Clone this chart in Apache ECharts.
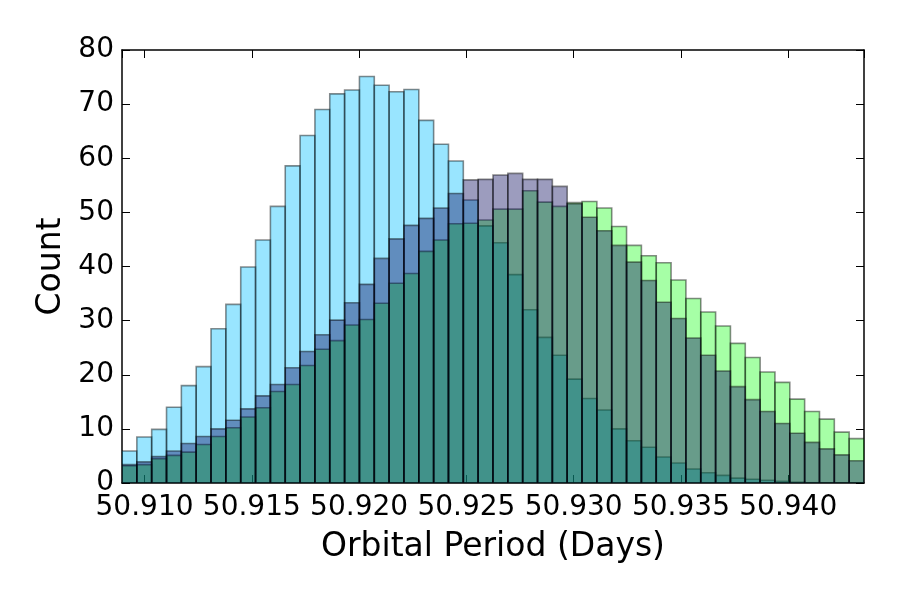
<!DOCTYPE html>
<html>
<head>
<meta charset="utf-8">
<script src="https://cdn.jsdelivr.net/npm/echarts@6/dist/echarts.min.js"></script>
<style>
  html, body { margin: 0; padding: 0; background: #fff; }
  #chart { width: 900px; height: 600px; }
</style>
</head>
<body>
<div id="chart"></div>
<script>
// histogram bins (50 equal bins over the plotted range)
var xMin = 50.90895;
var xMax = 50.94353;
var binCount = 50;

// counts per bin
var cyanCounts = [5.9, 8.5, 9.9, 14.0, 18.0, 21.5, 28.5, 33.0, 39.9, 44.9,
  51.1, 58.6, 64.2, 69.0, 71.9, 72.6, 75.1, 73.5, 72.3, 72.7,
  67.0, 62.6, 59.5, 52.3, 47.5, 44.4, 38.5, 32.0, 26.9, 23.6,
  19.2, 15.6, 13.5, 10.0, 7.8, 6.6, 4.8, 3.7, 2.6, 1.9,
  1.4, 0.9, 0.7, 0.5, 0.3, 0.15, 0.05, 0, 0, 0];
var greenCounts = [3.2, 3.4, 4.5, 5.1, 5.7, 7.1, 8.6, 10.2, 12.2, 13.9,
  16.9, 18.2, 21.7, 24.7, 26.3, 29.2, 30.2, 33.2, 36.9, 38.7,
  42.8, 44.9, 47.9, 48.0, 48.6, 50.6, 50.6, 54.0, 51.9, 51.1,
  51.8, 52.0, 50.8, 47.4, 43.9, 42.0, 40.7, 37.5, 34.1, 31.6,
  29.0, 25.8, 23.2, 20.5, 18.6, 15.5, 13.2, 11.8, 9.4, 8.2];
var navyCounts = [3.4, 3.9, 4.9, 5.9, 7.3, 8.6, 10.0, 11.6, 13.7, 16.1,
  18.2, 21.3, 24.3, 27.4, 30.1, 33.3, 36.7, 41.5, 45.1, 47.6,
  48.9, 50.8, 53.5, 56.0, 56.1, 56.9, 57.2, 56.1, 56.1, 54.8,
  51.6, 49.1, 46.6, 43.9, 40.8, 37.4, 33.4, 30.4, 26.8, 23.6,
  20.7, 17.8, 15.4, 13.2, 11.0, 9.2, 7.5, 6.3, 5.2, 4.1];

var fontName = 'DejaVu Sans';
var binWidth = (xMax - xMin) / binCount;

function histData(counts) {
  return counts.map(function (c, i) {
    return [xMin + i * binWidth, xMin + (i + 1) * binWidth, c];
  });
}

function makeRender(fill) {
  return function (params, api) {
    var topLeft = api.coord([api.value(0), api.value(2)]);
    var bottomRight = api.coord([api.value(1), 0]);
    return {
      type: 'rect',
      shape: {
        x: topLeft[0],
        y: topLeft[1],
        width: bottomRight[0] - topLeft[0],
        height: bottomRight[1] - topLeft[1]
      },
      style: {
        fill: fill,
        stroke: 'rgba(0,0,0,0.45)',
        lineWidth: 1.6
      }
    };
  };
}

function histSeries(counts, fill) {
  return {
    type: 'custom',
    xAxisIndex: 0,
    yAxisIndex: 0,
    clip: true,
    renderItem: makeRender(fill),
    encode: { x: [0, 1], y: 2 },
    data: histData(counts)
  };
}

var frameLine = { show: true, onZero: false, lineStyle: { color: '#000', width: 1.5 } };
var innerTick = { show: true, inside: true, length: 8, lineStyle: { color: '#000', width: 1 } };

var chart = echarts.init(document.getElementById('chart'), null, { renderer: 'canvas' });
chart.setOption({
  animation: false,
  backgroundColor: '#fff',
  grid: { left: 122, right: 36, top: 50, bottom: 117 },
  xAxis: [{
    type: 'value',
    position: 'bottom',
    min: xMin,
    max: xMax,
    splitNumber: 5,
    name: 'Orbital Period (Days)',
    nameLocation: 'middle',
    nameGap: 48,
    nameTextStyle: { fontFamily: fontName, fontSize: 33, color: '#000' },
    axisLine: frameLine,
    axisTick: innerTick,
    splitLine: { show: false },
    axisLabel: {
      fontFamily: fontName, fontSize: 28, color: '#000', margin: 11,
      showMinLabel: false, showMaxLabel: false,
      formatter: function (v) { return v.toFixed(3); }
    }
  }, {
    type: 'value',
    position: 'top',
    min: xMin,
    max: xMax,
    splitNumber: 5,
    axisLine: frameLine,
    axisTick: innerTick,
    splitLine: { show: false },
    axisLabel: { show: false }
  }],
  yAxis: [{
    type: 'value',
    position: 'left',
    min: 0,
    max: 80,
    interval: 10,
    name: 'Count',
    nameLocation: 'middle',
    nameGap: 51,
    nameTextStyle: { fontFamily: fontName, fontSize: 33, color: '#000' },
    axisLine: frameLine,
    axisTick: innerTick,
    splitLine: { show: false },
    axisLabel: { fontFamily: fontName, fontSize: 28, color: '#000', margin: 8 }
  }, {
    type: 'value',
    position: 'right',
    min: 0,
    max: 80,
    interval: 10,
    axisLine: frameLine,
    axisTick: innerTick,
    splitLine: { show: false },
    axisLabel: { show: false }
  }],
  series: [
    histSeries(cyanCounts, 'rgba(0,191,255,0.4)'),
    histSeries(greenCounts, 'rgba(0,255,0,0.35)'),
    histSeries(navyCounts, 'rgba(20,20,100,0.42)')
  ]
});
</script>
</body>
</html>
